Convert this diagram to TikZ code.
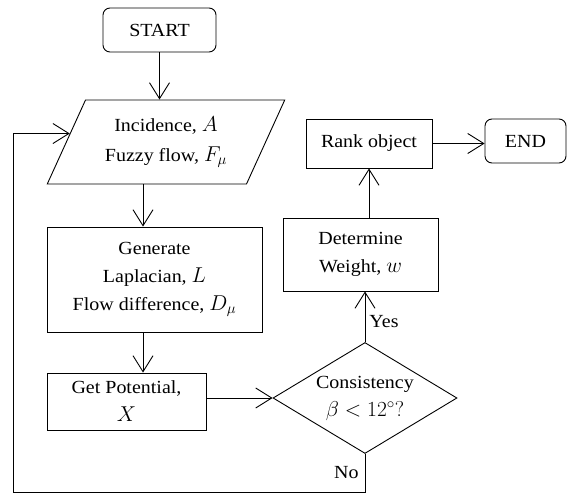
\documentclass[tikz,border=0pt]{standalone}
\usepackage{fix-cm}
\usepackage{fontspec}
\setmainfont[FakeStretch=1.08]{Liberation Serif}
\usetikzlibrary{arrows.meta,shapes.geometric,calc}
\newcommand{\mm}[1]{{\fontsize{21.5}{28}\selectfont$#1$}}
\begin{document}
\begin{tikzpicture}[x=1pt,y=-1pt,
  line width=0.9pt,
  every node/.style={font=\fontsize{18.5}{28}\selectfont, align=center, inner sep=0pt},
  proc/.style={draw, rectangle},
  term/.style={draw, rounded corners=7pt},
  arr/.style={-{Straight Barb[length=16pt,width=20pt]}},
]
\useasboundingbox (0,0) rectangle (567,494);
\node[term, minimum width=113pt, minimum height=44pt] (start) at (159.5,30) {START};
\node[draw, trapezium, trapezium left angle=60.3, trapezium right angle=119.7,
      trapezium stretches=true, minimum width=238pt, minimum height=84pt]
      (para) at (166,142) {Incidence, \mm{A}\\[2pt]Fuzzy flow, \mm{F_\mu}};
\node[proc, minimum width=215pt, minimum height=105pt] (gen) at (154.5,279.5)
      {Generate\\Laplacian, \mm{L}\\Flow difference, \mm{D_\mu}};
\node[proc, minimum width=159pt, minimum height=57pt] (pot) at (126.5,401.5)
      {Get Potential,\\\mm{X}};
\node[draw, diamond, aspect=1.66, minimum width=184pt, minimum height=111pt] (dia) at (365,398)
      {Consistency\\\mm{\beta<12^\circ?}};
\node[proc, minimum width=155pt, minimum height=73pt] (det) at (360.5,254.5)
      {Determine\\Weight, \mm{w}};
\node[proc, minimum width=126pt, minimum height=49pt] (rank) at (369,143.5) {Rank object};
\node[term, minimum width=81pt, minimum height=44pt] (end) at (525.5,141) {END};

\coordinate (colx) at (143,0);
\coordinate (lb) at (13,492);
\coordinate (loopin) at ($(para.bottom left corner)!0.6!(para.top left corner)$);

\draw[arr] (start.south) -- (start.south |- para.north);
\draw[arr] (para.south -| colx) -- (gen.north -| colx);
\draw[arr] (gen.south -| colx) -- (pot.north -| colx);
\draw[arr] (pot.east |- dia.west) -- (dia.west);
\draw[arr] (dia.north) -- (dia.north |- det.south) node[pos=0.4, right=4pt] {Yes};
\draw[arr] (rank.south |- det.north) -- (rank.south);
\draw[arr] (rank.east) -- (rank.east -| end.west);
\draw[arr] (dia.south) -- (dia.south |- lb) node[midway, left=6pt] {No}
      -- (lb) -- (lb |- loopin) -- (loopin);
\end{tikzpicture}
\end{document}
